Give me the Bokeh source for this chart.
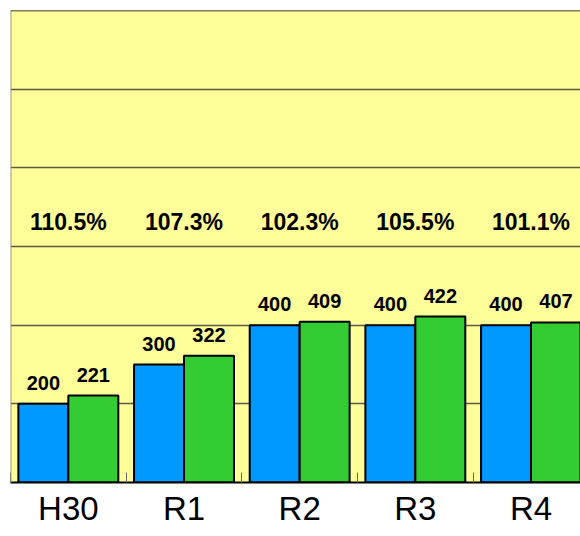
import numpy as np
from bokeh.plotting import figure
from bokeh.models import ColumnDataSource, LabelSet, Range1d, FixedTicker, Span
from bokeh.core.properties import value
from bokeh.embed import file_html
from bokeh.resources import INLINE

categories = ["H30", "R1", "R2", "R3", "R4"]
series_a = [200, 300, 400, 400, 400]
series_b = [221, 322, 409, 422, 407]
ratios = ["110.5%", "107.3%", "102.3%", "105.5%", "101.1%"]
y_ticks = [0, 200, 400, 600, 800, 1000, 1200]

idx = np.arange(len(categories))
centers = idx + 0.5
bw = 0.432

src_a = ColumnDataSource(dict(x=centers - bw / 2, top=series_a, lab=[str(v) for v in series_a]))
src_b = ColumnDataSource(dict(x=centers + bw / 2, top=series_b, lab=[str(v) for v in series_b]))
src_c = ColumnDataSource(dict(x=centers, r=ratios, ry=[663] * len(categories)))

p = figure(width=580, height=536, output_backend="svg", toolbar_location=None,
           x_range=Range1d(0, 570 / 115.67), y_range=Range1d(0, 1200),
           min_border_left=10, min_border_right=0, min_border_top=10, min_border_bottom=54)
p.background_fill_color = "#FFFF99"
p.border_fill_color = "white"
p.outline_line_color = None

p.yaxis.visible = False
p.xgrid.visible = False
p.ygrid.ticker = FixedTicker(ticks=y_ticks)
p.ygrid.grid_line_color = "#5a5a4a"
p.ygrid.grid_line_width = 1.5

p.xaxis.ticker = FixedTicker(ticks=list(centers), minor_ticks=list(range(len(categories) + 1)))
p.xaxis.major_label_overrides = {float(c): cat for c, cat in zip(centers, categories)}
p.xaxis.major_tick_line_color = None
p.xaxis.major_tick_in = 0
p.xaxis.major_tick_out = 0
p.xaxis.minor_tick_in = 10
p.xaxis.minor_tick_out = 0
p.xaxis.minor_tick_line_color = "#666666"
p.xaxis.major_label_text_font = "Liberation Sans"
p.xaxis.major_label_text_font_size = "33px"
p.xaxis.major_label_text_color = "black"
p.xaxis.major_label_standoff = 7
p.xaxis.axis_line_color = "black"
p.xaxis.axis_line_width = 2

p.vbar(x="x", top="top", width=bw, bottom=0, source=src_a,
       fill_color="#0099FF", line_color="black", line_width=2)
p.vbar(x="x", top="top", width=bw, bottom=0, source=src_b,
       fill_color="#33CC33", line_color="black", line_width=2)

p.add_layout(Span(location=0, dimension="height", line_color="#999999", line_width=2))
p.add_layout(Span(location=1200, dimension="width", line_color="black", line_width=1.5))

font = "Liberation Sans"
for s in (src_a, src_b):
    p.add_layout(LabelSet(x="x", y="top", text="lab", source=s, y_offset=14,
                          text_align="center", text_baseline="alphabetic",
                          text_font=value(font), text_font_style="bold",
                          text_font_size="20px", text_color="black"))

p.add_layout(LabelSet(x="x", y="ry", text="r", source=src_c,
                      text_align="center", text_baseline="middle",
                      text_font=value(font), text_font_style="bold",
                      text_font_size="23px", text_color="black"))

open("out.html", "w").write(file_html(p, INLINE))
